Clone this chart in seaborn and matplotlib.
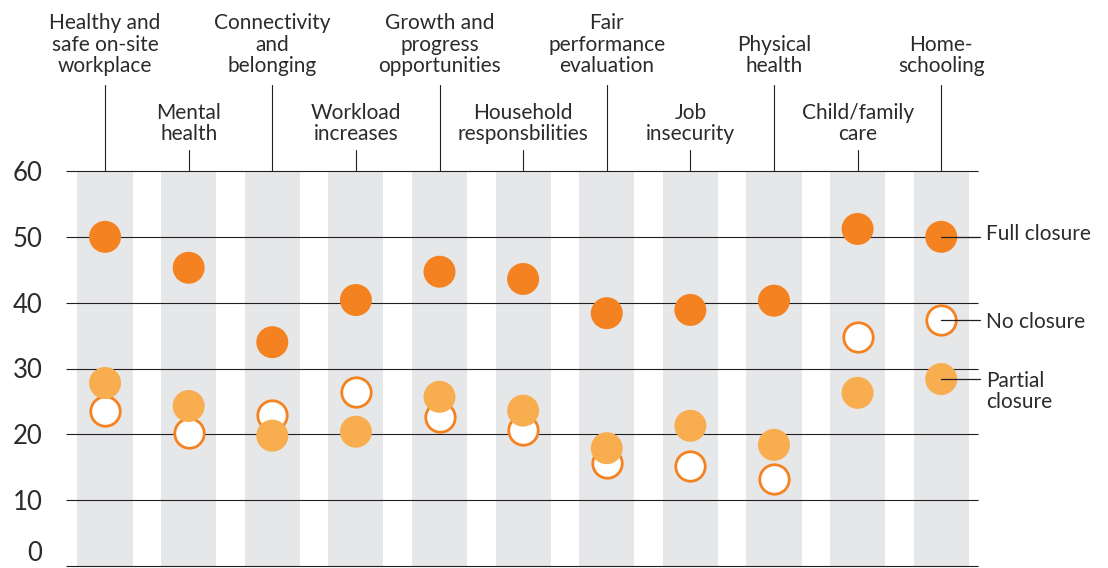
# workplace concerns by school closure status
import pandas as pd
import matplotlib
matplotlib.use("Agg")
import matplotlib.pyplot as plt
import matplotlib.transforms as mtransforms
import seaborn as sns

categories = [
    "Healthy and\nsafe on-site\nworkplace", "Mental\nhealth", "Connectivity\nand\nbelonging",
    "Workload\nincreases", "Growth and\nprogress\nopportunities", "Household\nresponsbilities",
    "Fair\nperformance\nevaluation", "Job\ninsecurity", "Physical\nhealth",
    "Child/family\ncare", "Home-\nschooling",
]
full_closure = [50.0, 45.3, 34.0, 40.4, 44.7, 43.6, 38.4, 38.9, 40.3, 51.2, 50.0]
no_closure = [23.6, 20.2, 22.9, 26.4, 22.6, 20.7, 15.7, 15.2, 13.2, 34.8, 37.4]
partial_closure = [27.8, 24.3, 19.8, 20.4, 25.7, 23.6, 17.9, 21.3, 18.4, 26.3, 28.4]
series_names = ["No closure", "Partial closure", "Full closure"]
y_ticks = [0, 10, 20, 30, 40, 50, 60]

# table longue pour seaborn
rows = []
for name, vals in zip(series_names, [no_closure, partial_closure, full_closure]):
    for i, v in enumerate(vals):
        rows.append({"pos": i, "value": v, "series": name})
df = pd.DataFrame(rows)

DARK = "#F58220"
LIGHT = "#F8AD4F"
BAND = "#E6E7E8"
TEXT = "#2B2B2B"
FS = 15

sns.set_theme(style="white")
plt.rcParams["font.family"] = ["Lato", "DejaVu Sans"]

fig = plt.figure(figsize=(11.08, 5.68), dpi=100)
ax = fig.add_axes([66 / 1108, 2 / 568, (978 - 66) / 1108, (566 - 171) / 568])

n = len(categories)
for i in range(n):
    ax.axvspan(i - 0.33, i + 0.33, color=BAND, lw=0, zorder=0)
ax.hlines(y_ticks, -0.467, 10.44, color="#231F20", lw=0.8, zorder=1, clip_on=False)

styles = {
    "No closure": dict(color="white", edgecolor=DARK, linewidth=2.0, s=450, zorder=3),
    "Partial closure": dict(color=LIGHT, edgecolor="none", linewidth=0, s=530, zorder=4),
    "Full closure": dict(color=DARK, edgecolor="none", linewidth=0, s=530, zorder=5),
}
for name in series_names:
    sub = df[df["series"] == name]
    sns.scatterplot(data=sub, x="pos", y="value", ax=ax, legend=False, **styles[name])

ax.set_xlim(-0.467, 10.44)
ax.set_ylim(0, 60)
ax.set_xticks([])
ax.set_yticks(y_ticks)
ax.set_yticklabels([str(t) for t in y_ticks], fontsize=18.5, color=TEXT)
ax.tick_params(axis="y", length=0, pad=17)
ax.yaxis.get_ticklabels()[0].set_verticalalignment("bottom")
ax.set_xlabel("")
ax.set_ylabel("")
for sp in ax.spines.values():
    sp.set_visible(False)

# libellés du haut, alternés
trans = mtransforms.blended_transform_factory(ax.transData, ax.transAxes)
for i, lab in enumerate(categories):
    if i % 2 == 0:
        ax.text(i, 1.24, lab, transform=trans, ha="center", va="bottom", fontsize=FS,
                color=TEXT, linespacing=1.1, clip_on=False)
        ax.plot([i, i], [1.0, 1.218], transform=trans, color="#231F20", lw=0.8, clip_on=False)
    else:
        ax.text(i, 1.068, lab, transform=trans, ha="center", va="bottom", fontsize=FS,
                color=TEXT, linespacing=1.1, clip_on=False)
        ax.plot([i, i], [1.0, 1.053], transform=trans, color="#231F20", lw=0.8, clip_on=False)

# légende directe sur la dernière colonne
last = n - 1
label_shift = {"Full closure": 0.4, "No closure": -0.3}
for name, vals in zip(series_names, [no_closure, partial_closure, full_closure]):
    y = vals[last]
    ax.plot([last, last + 0.467], [y, y], color="#231F20", lw=0.9, zorder=6, clip_on=False)
    if name == "Partial closure":
        ax.text(last + 0.54, y + 1.2, "Partial\nclosure", ha="left", va="top", fontsize=FS,
                color=TEXT, linespacing=1.05, clip_on=False)
    else:
        ax.text(last + 0.54, y + label_shift[name], name, ha="left", va="center", fontsize=FS,
                color=TEXT, clip_on=False)

fig.savefig("out.png", dpi=100)
